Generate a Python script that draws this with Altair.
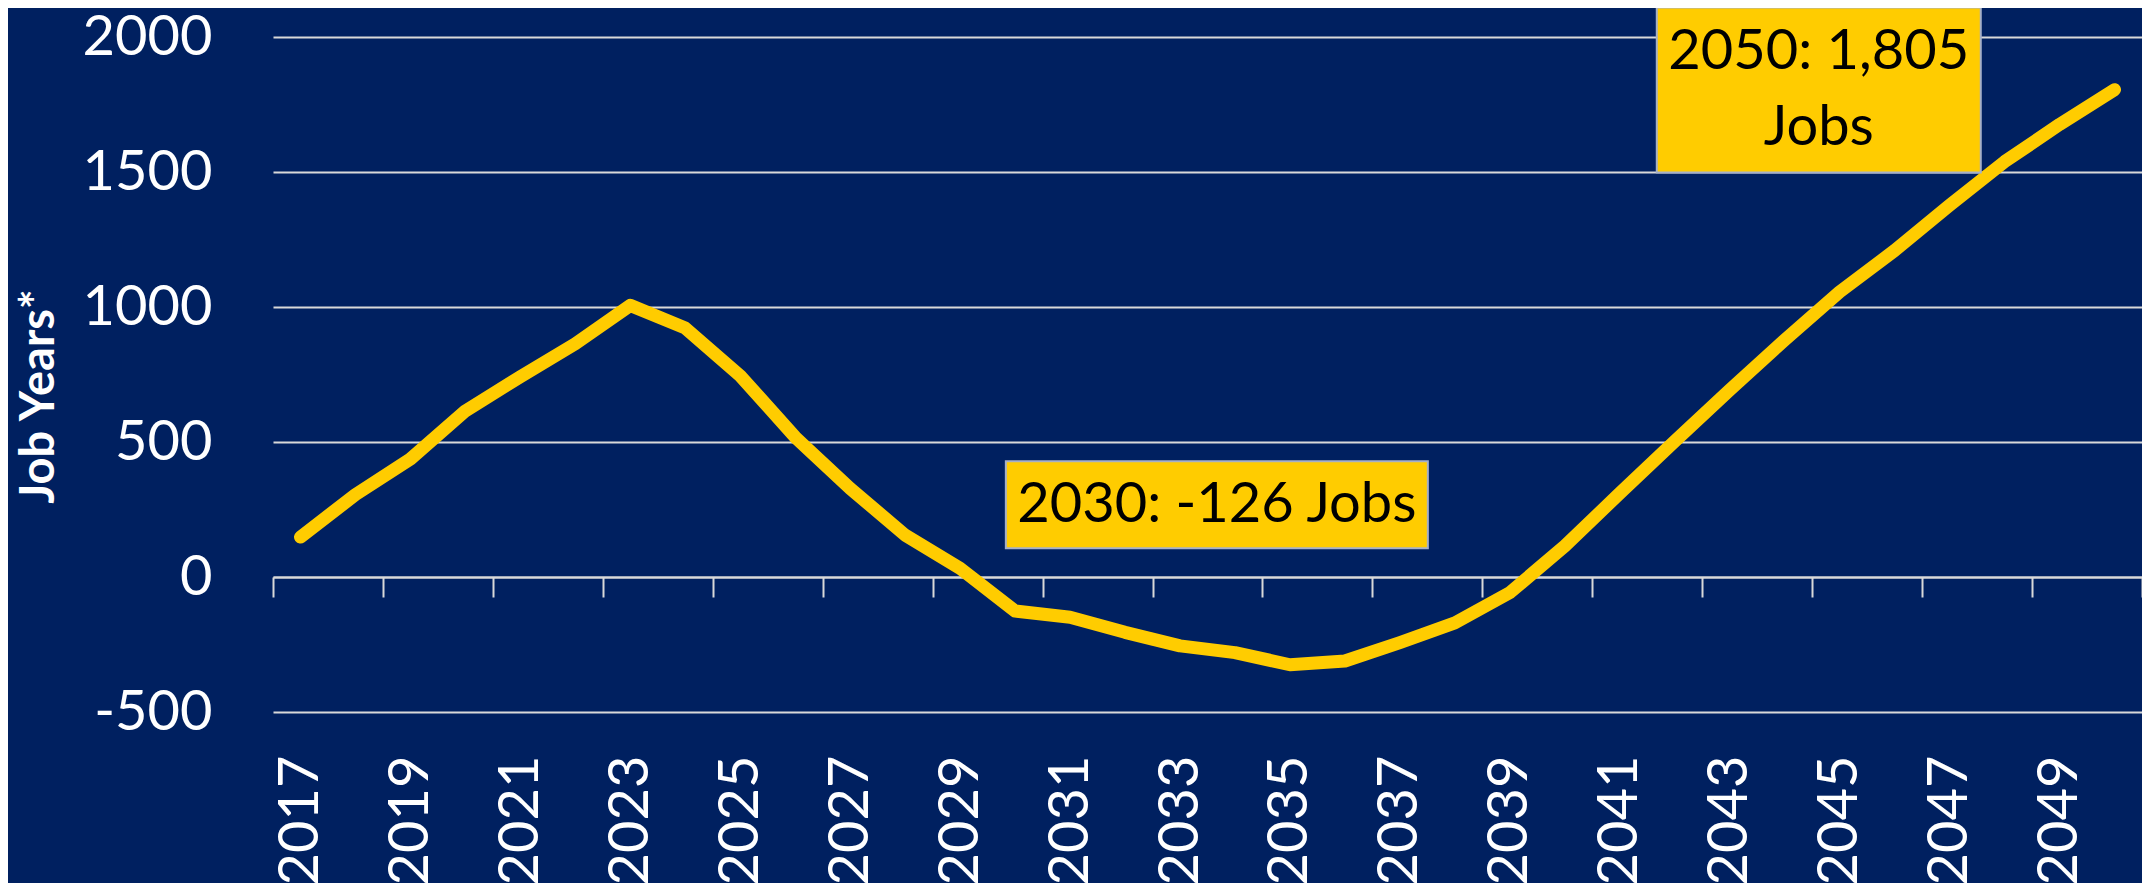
import altair as alt
import pandas as pd

# ---- data ----
years = [2017, 2018, 2019, 2020, 2021, 2022, 2023, 2024, 2025, 2026, 2027, 2028,
         2029, 2030, 2031, 2032, 2033, 2034, 2035, 2036, 2037, 2038, 2039, 2040,
         2041, 2042, 2043, 2044, 2045, 2046, 2047, 2048, 2049, 2050]
job_years = [148, 305, 437, 615, 742, 864, 1006, 922, 745, 518, 328, 155,
             32, -126, -149, -205, -255, -280, -325, -311, -243, -170, -58, 115,
             310, 503, 693, 878, 1056, 1209, 1377, 1538, 1676, 1805]
label_years = [2017, 2019, 2021, 2023, 2025, 2027, 2029, 2031, 2033, 2035,
               2037, 2039, 2041, 2043, 2045, 2047, 2049]
tick_years = [2016.5, 2018.5, 2020.5, 2022.5, 2024.5, 2026.5, 2028.5, 2030.5,
              2032.5, 2034.5, 2036.5, 2038.5, 2040.5, 2042.5, 2044.5, 2046.5,
              2048.5, 2050.5]
y_ticks = [-500, 0, 500, 1000, 1500, 2000]

ann_text = ["2030: -126 Jobs", "2050: 1,805\nJobs"]
ann_year = [2033.67, 2044.62]
ann_value = [268, 1804]

# ---- styles ----
BG = "#002060"
GOLD = "#FFCC00"
GRID = "#D9D9D9"
FONT = "Lato"
W, H = 1869, 675
LINE_H = 76
# box shapes (custom symbol paths in [-1,1] box) and their pixel widths
box_paths = ["M-1,-0.2062H1V0.2062H-1Z", "M-1,-0.5093H1V0.5093H-1Z"]
box_widths = [422, 324]

df = pd.DataFrame({"year": years, "value": job_years})
ann = pd.DataFrame({"year": ann_year, "value": ann_value, "text": ann_text})

xscale = alt.Scale(domain=[2016.5, 2050.5], nice=False, zero=False)
yscale = alt.Scale(domain=[-500, 2000], nice=False, zero=False)

y_axis = alt.Axis(
    values=y_ticks, grid=True, gridColor=GRID, gridWidth=2, ticks=False,
    domain=False, labelFontSize=56, labelFont=FONT, labelColor="white",
    labelExpr="'' + datum.value",
    labelPadding=61, labelFlush=False, labelOverlap=False,
    title="Job Years*", titleFont=FONT, titleFontSize=47, titleFontWeight="bold",
    titleColor="white", titleAngle=270, titleAlign="center",
    titleBaseline="middle", titleX=-234, titleY=359)


def yenc():
    return alt.Y("value:Q", scale=yscale, axis=y_axis)


line = alt.Chart(df).mark_line(
    color=GOLD, strokeWidth=13, strokeCap="round", strokeJoin="round"
).encode(
    x=alt.X("year:Q", scale=xscale, axis=alt.Axis(
        values=label_years, orient="bottom", grid=False, ticks=False, domain=False,
        labelAngle=270, labelAlign="right", labelBaseline="middle",
        labelPadding=43, labelFontSize=56, labelFont=FONT, labelColor="white",
        labelExpr="'' + datum.value", labelOverlap=False, labelFlush=False,
        title=None)),
    y=yenc(),
)

# zero axis line with interval ticks (independent axis on same scale)
zero_axis = alt.Chart(df).mark_line(opacity=0).encode(
    x=alt.X("year:Q", scale=xscale, axis=alt.Axis(
        values=tick_years, orient="bottom", offset=-135, grid=False,
        domain=True, domainColor=GRID, domainWidth=2,
        ticks=True, tickSize=20, tickColor=GRID, tickWidth=2,
        labels=False, title=None)),
    y=yenc(),
)

layers = [zero_axis, line]
for i in range(len(ann_text)):
    sub = ann.iloc[[i]]
    n_lines = ann_text[i].count("\n") + 1
    box = alt.Chart(sub).mark_point(
        shape=box_paths[i], size=box_widths[i] ** 2, filled=True, fill=GOLD,
        stroke="#A6B0C8", strokeWidth=2, opacity=1
    ).encode(
        x=alt.X("year:Q", scale=xscale, axis=None),
        y=yenc(),
    )
    txt = alt.Chart(sub).mark_text(
        font=FONT, fontSize=56, color="black", align="center", baseline="middle",
        lineBreak="\n", lineHeight=LINE_H, dy=-(n_lines - 1) * LINE_H / 2
    ).encode(
        x=alt.X("year:Q", scale=xscale, axis=None),
        y=yenc(),
        text="text:N",
    )
    layers += [box, txt]

chart = alt.layer(*layers).resolve_axis(x="independent").properties(
    width=W, height=H,
    autosize=alt.AutoSizeParams(type="none"),
    padding={"left": 265, "top": 29, "right": 0, "bottom": 171},
    background=BG,
).configure_view(stroke=None)

chart.save("out.html", embed_options={"renderer": "svg", "actions": False})
